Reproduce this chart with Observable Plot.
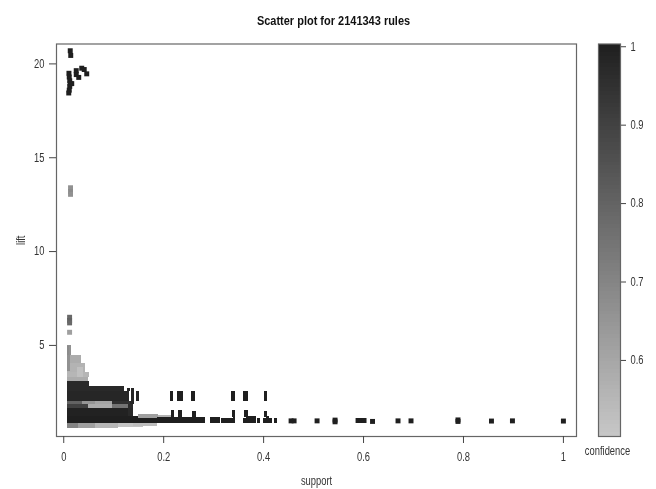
<!DOCTYPE html>
<html><head><meta charset="utf-8">
<script src="https://cdn.jsdelivr.net/npm/d3@7"></script>
<script src="https://cdn.jsdelivr.net/npm/@observablehq/plot@0.6"></script>
<style>
html,body{margin:0;padding:0;background:#fff}
#chart{position:relative;width:656px;height:489px;overflow:hidden;filter:blur(0.45px)}
#chart svg{position:absolute;left:0;top:0;background:transparent;font-family:"Liberation Sans",Arial,sans-serif}
</style></head><body><div id="chart"></div>
<script>
const titleText = "Scatter plot for 2141343 rules";
const xTicks = [0, 0.2, 0.4, 0.6, 0.8, 1];
const yTicks = [5, 10, 15, 20];
const confTicks = [0.6, 0.7, 0.8, 0.9, 1];

// individual rule points
const dotSupport = [.013,.014, .0104,.011,.012,.013,.012,.011,.010, .025,.025,.030,.036,.041,.046,.016, .0136,.0136,.0136, .0117,.0117,.0117,.0117,
  .455,.461,.507,.543,.543,.589,.595,.601,.618,.669,.695,.789,.789,.856,.898,1.0];
const dotLift = [20.7,20.45, 19.5,19.3,19.1,18.95,18.8,18.6,18.45, 19.64,19.43,19.28,19.77,19.7,19.47,18.95, 13.4,13.2,13.05, 6.5,6.33,6.2,5.7,
  .98,.98,.98,1.02,.93,1.0,1.0,1.0,.95,.98,.98,1.03,.95,.97,.98,.97];
const dotConf = [1,1, 1,1,1,1,1,1,1, 1,1,1,1,1,1,1, .66,.68,.66, .78,.8,.78,.62,
  1,1,1,1,1,1,1,1,1,1,1,1,1,1,1,1];

// dense regions where the points overlap into solid blocks
const bandSupLo = [
  .007,.007,.007,.007,.007, .007,.007,.028,
  .007,.007,
  .007,.007,.094, .125,.135,.127,.135,.146,
  .007,.037,.064,.097,.133, .007,.050,.097,.130,
  .007,.007,.130,.140,.157,
  .007,.030,.064,.110,.140,
  .15,.19,
  .213,.228,.256,.335,.360,.401, .215,.230,.258,.337,.362,.402,
  .187,.293,.315,.360,.375,.387,.399,.422, .205,.226,.248,.340,.366,.405];
const bandSupHi = [
  .015,.036,.043,.052,.050, .014,.012,.040,
  .052,.122,
  .092,.093,.125, .131,.142,.134,.142,.152,
  .037,.064,.097,.133,.142, .050,.097,.130,.140,
  .130,.157,.140,.157,.187,
  .030,.064,.110,.160,.187,
  .19,.22,
  .220,.239,.264,.343,.370,.408, .222,.238,.265,.343,.369,.408,
  .283,.313,.343,.373,.383,.393,.417,.428, .225,.245,.280,.343,.385,.412];
const bandLiftLo = [
  4.47,4.02,3.58,3.31,3.10, 3.6,4.47,3.3,
  2.83,2.56,
  2.01,2.01,2.01, 2.01,2.56,2.56,2.01,2.01,
  1.85,1.85,1.85,1.85,1.85, 1.64,1.64,1.64,1.50,
  .84,.84,1.23,1.15,.84,
  .57,.57,.57,.62,.68,
  1.12,1.12,
  2.01,2.01,2.01,2.01,2.01,2.01, 1.14,1.14,1.14,1.14,1.14,1.14,
  .86,.82,.82,.82,.82,.82,.82,.82, .82,.82,.82,.82,.82,.82];
const bandLiftHi = [
  5.0,4.47,4.02,3.58,3.31, 4.47,4.95,3.8,
  3.10,2.83,
  2.56,2.56,2.56, 2.56,2.72,2.72,2.56,2.56,
  2.01,2.01,2.01,2.01,2.01, 1.85,1.85,1.85,1.85,
  1.64,1.23,1.64,1.23,1.12,
  .84,.84,.84,.84,.84,
  1.32,1.25,
  2.56,2.56,2.56,2.56,2.56,2.56, 1.55,1.55,1.50,1.55,1.55,1.50,
  1.14,1.14,1.12,1.12,1.12,1.12,1.12,1.10, 1.15,1.18,1.12,1.35,1.22,1.22];
const bandConf = [
  .66,.58,.56,.55,.58, .66,.68,.52,
  .97,.97,
  .98,.98,.98, .98,.98,.98,.98,.98,
  .8,.65,.6,.95,.98, .9,.58,.75,.96,
  .99,1,.97,1,1,
  .7,.62,.55,.51,.53,
  .62,.56,
  1,1,1,1,1,1, 1,1,1,1,1,1,
  1,1,1,1,1,1,1,1, 1,1,1,1,1,1];

const levels = d3.range(0.503, 1.0031, 0.005);
const colorDomain = [0.503, 1];
const colorRange = ["#c6c6c6", "#1f1f1f"];
const color = {type: "linear", domain: colorDomain, range: colorRange};

const dots = dotSupport.map((s, i) => ({s, l: dotLift[i], c: dotConf[i]}));
const bands = bandSupLo.map((s, i) => ({x1: s, x2: bandSupHi[i], y1: bandLiftLo[i], y2: bandLiftHi[i], c: bandConf[i]}));
const fontFamily = "'Liberation Sans',Arial,sans-serif";

const main = Plot.plot({
  width: 656, height: 489,
  marginLeft: 56, marginRight: 80, marginTop: 43.5, marginBottom: 53,
  x: {domain: [-0.0145, 1.0262]},
  y: {domain: [0.147, 21.06]},
  color,
  style: {fontFamily, color: "#333"},
  marks: [
    Plot.rect(bands, {x1: "x1", x2: "x2", y1: "y1", y2: "y2", fill: d => d.c, shapeRendering: "crispEdges"}),
    Plot.dot(dots, {x: "s", y: "l", fill: d => d.c, symbol: "square", r: 2.8}),
    Plot.frame({stroke: "#666", strokeWidth: 1.2}),
    Plot.axisX({ticks: xTicks, tickFormat: d => String(d), tickSize: 7, tickPadding: 9, fontSize: 12, stroke: "#444",
      label: "support", labelAnchor: "center", labelArrow: "none", labelOffset: 48}),
    Plot.axisY({ticks: yTicks, tickFormat: d => String(d), tickSize: 7, tickPadding: 5, fontSize: 12, stroke: "#444",
      label: "lift", labelAnchor: "center", labelArrow: "none", labelOffset: 40}),
    Plot.text([titleText], {frameAnchor: "top", dx: 17, dy: -28, fontSize: 13, fontWeight: "bold", fill: "#111"})
  ]
});

const bar = Plot.plot({
  width: 656, height: 489,
  marginLeft: 598, marginRight: 36, marginTop: 43.5, marginBottom: 53,
  x: {domain: [0, 1], axis: null},
  y: {domain: [0.503, 1.0035]},
  color,
  style: {fontFamily, color: "#333", background: "transparent"},
  marks: [
    Plot.rect(levels, {x1: 0, x2: 1, y1: d => d, y2: d => Math.min(d + 0.006, 1.0035), fill: d => d, shapeRendering: "crispEdges"}),
    Plot.frame({stroke: "#666", strokeWidth: 1.2}),
    Plot.axisY({anchor: "right", ticks: confTicks, tickFormat: d => String(d), tickSize: 5, tickPadding: 5, fontSize: 12, stroke: "#444", label: null}),
    Plot.text(["confidence"], {frameAnchor: "bottom", dx: -2, dy: 18, fontSize: 12, fill: "#333"})
  ]
});

const host = document.getElementById("chart");
host.append(main, bar);
// the reference's lettering is horizontally condensed
host.querySelectorAll("text").forEach(t => {
  const f = t.textContent === titleText ? 0.845 : 0.78;
  t.setAttribute("textLength", t.getComputedTextLength() * f);
  t.setAttribute("lengthAdjust", "spacingAndGlyphs");
});
</script></body></html>
